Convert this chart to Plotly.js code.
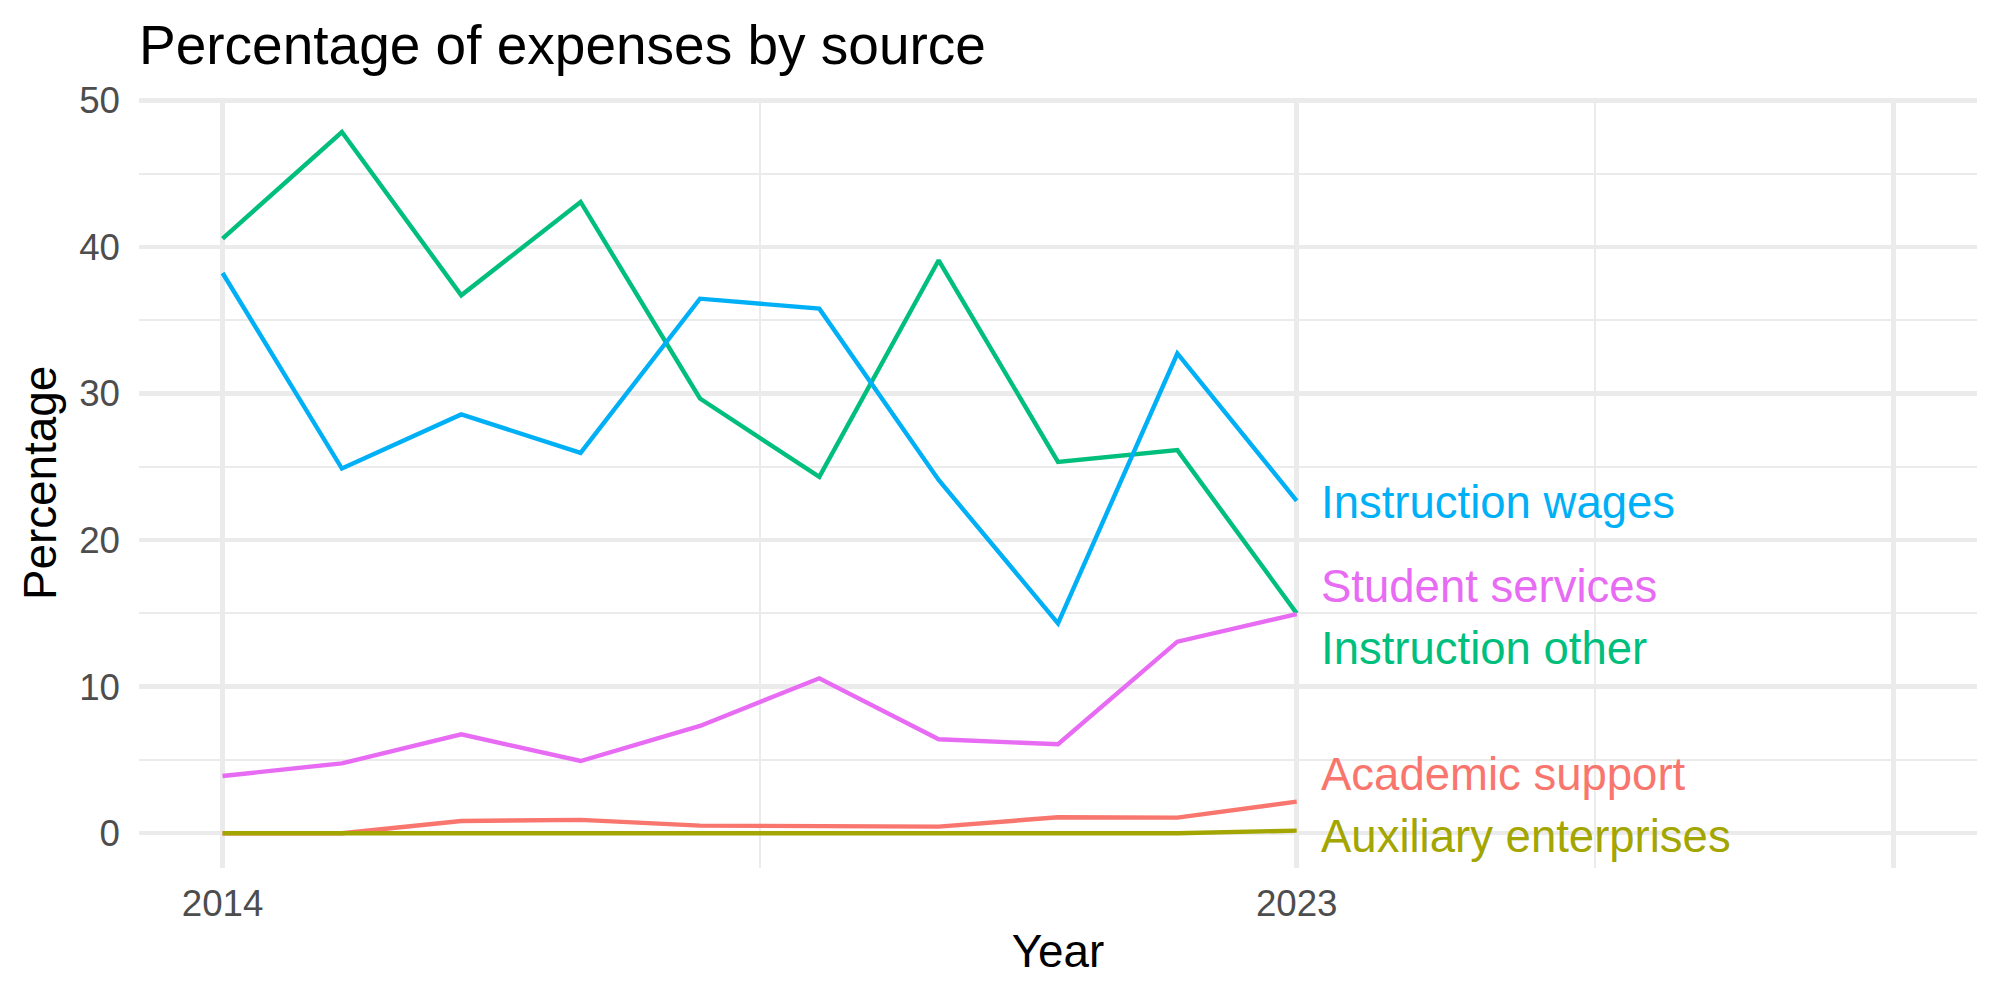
<!DOCTYPE html>
<html>
<head>
<meta charset="utf-8">
<script src="https://cdn.plot.ly/plotly-3.0.1.min.js"></script>
<style>
  html, body { margin: 0; padding: 0; background: #ffffff; }
  #chart { width: 2000px; height: 1000px; }
</style>
</head>
<body>
<div id="chart"></div>
<script>
// ---- data ----
const years = [2014, 2015, 2016, 2017, 2018, 2019, 2020, 2021, 2022, 2023];

const seriesNames = ["Academic support", "Auxiliary enterprises", "Instruction other", "Instruction wages", "Student services"];

const academicSupport    = [0.0, 0.0, 0.84, 0.91, 0.52, 0.50, 0.45, 1.09, 1.07, 2.16];
const auxiliaryEnterprises = [0.0, 0.0, 0.0, 0.0, 0.0, 0.0, 0.0, 0.0, 0.0, 0.18];
const instructionOther   = [40.57, 47.84, 36.70, 43.07, 29.66, 24.31, 39.09, 25.34, 26.14, 15.0];
const instructionWages   = [38.22, 24.88, 28.57, 25.95, 36.47, 35.79, 24.10, 14.32, 32.73, 22.68];
const studentServices    = [3.91, 4.77, 6.75, 4.93, 7.32, 10.57, 6.41, 6.07, 13.07, 14.95];

// end-of-line label positions (repelled)
const labelX = 2023.19;
const labelY = [4.03, -0.25, 12.58, 22.58, 16.85];

const xTickVals = [2014, 2023, 2028];
const xTickText = ["2014", "2023", ""];
const xMinorVals = [2018.5, 2025.5];
const yTickVals = [0, 10, 20, 30, 40, 50];
const yMinorVals = [5, 15, 25, 35, 45];

// ---- styling ----
const colors = ["#F8766D", "#A3A500", "#00BF7D", "#00B0F6", "#E76BF3"];
const seriesValues = [academicSupport, auxiliaryEnterprises, instructionOther, instructionWages, studentServices];
const FONT = "Liberation Sans, Arial, Helvetica, sans-serif";

const traces = seriesNames.map((name, i) => ({
  type: "scatter",
  mode: "lines",
  name: name,
  x: years,
  y: seriesValues[i],
  line: { color: colors[i], width: 4.4 },
  hoverinfo: "skip",
  showlegend: false
}));

const annotations = seriesNames.map((name, i) => ({
  x: labelX,
  y: labelY[i],
  xref: "x",
  yref: "y",
  text: name,
  showarrow: false,
  xanchor: "left",
  yanchor: "middle",
  font: { family: FONT, size: 45.5, color: colors[i] }
}));

const layout = {
  width: 2000,
  height: 1000,
  paper_bgcolor: "#ffffff",
  plot_bgcolor: "#ffffff",
  margin: { l: 139, r: 23, t: 98, b: 132 },
  showlegend: false,
  title: {
    text: "Percentage of expenses by source",
    font: { family: FONT, size: 55, color: "#000000" },
    xref: "paper",
    x: 0,
    xanchor: "left",
    yref: "container",
    y: 0.955,
    yanchor: "middle"
  },
  xaxis: {
    range: [2013.3, 2028.7],
    tickmode: "array",
    tickvals: xTickVals,
    ticktext: xTickText,
    showgrid: true,
    gridcolor: "#EBEBEB",
    gridwidth: 4.4,
    zeroline: false,
    showline: false,
    ticks: "",
    ticklabelstandoff: 10,
    tickfont: { family: FONT, size: 36.7, color: "#4D4D4D" },
    minor: { tickmode: "array", tickvals: xMinorVals, showgrid: true, gridcolor: "#EBEBEB", gridwidth: 2.2, ticks: "" },
    title: { text: "Year", font: { family: FONT, size: 45.8, color: "#000000" }, standoff: 12 },
    fixedrange: true
  },
  yaxis: {
    range: [-2.37, 50.16],
    tickmode: "array",
    tickvals: yTickVals,
    showgrid: true,
    gridcolor: "#EBEBEB",
    gridwidth: 4.4,
    zeroline: false,
    showline: false,
    ticks: "",
    ticklabelstandoff: 18,
    tickfont: { family: FONT, size: 36.7, color: "#4D4D4D" },
    minor: { tickmode: "array", tickvals: yMinorVals, showgrid: true, gridcolor: "#EBEBEB", gridwidth: 2.2, ticks: "" },
    title: { text: "Percentage", font: { family: FONT, size: 45.8, color: "#000000" }, standoff: 8 },
    fixedrange: true
  },
  annotations: annotations
};

Plotly.newPlot("chart", traces, layout, { displayModeBar: false, staticPlot: true });
</script>
</body>
</html>
